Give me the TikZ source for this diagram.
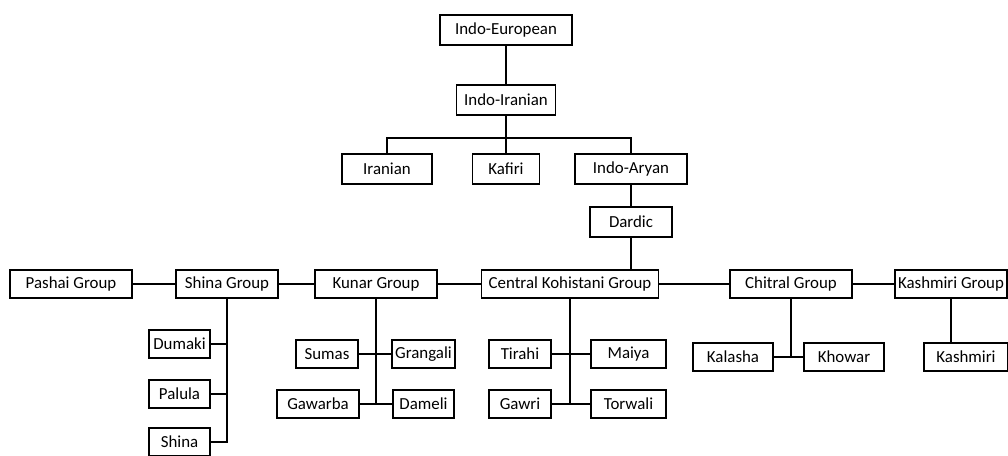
\documentclass[tikz,border=0pt]{standalone}
\usepackage{fontspec}
\setmainfont{Carlito}
\tikzset{box/.style={draw, line width=1.3pt, minimum height=0.7cm, inner xsep=2pt, font=\fontsize{12}{14}\selectfont}}

\begin{document}
\begin{tikzpicture}[x=0.025cm, y=-0.025cm, line width=1.3pt]
\useasboundingbox (0,0) rectangle (1008,455);
% top of the tree
\node [box, minimum width=3.3cm, minimum height=0.75cm] (ie) at (506,30) {Indo-European};
\node [box, minimum width=2.475cm, minimum height=0.75cm] (ii) at (506,100) {Indo-Iranian};
\node [box, minimum width=2.25cm, minimum height=0.75cm] (iran) at (387,169) {Iranian};
\node [box, minimum width=1.675cm, minimum height=0.75cm] (kaf) at (506,169) {Kafiri};
\node [box, minimum width=2.8cm, minimum height=0.75cm] (ia) at (631,169) {Indo-Aryan};
\node [box, minimum width=2.05cm, minimum height=0.75cm] (dard) at (631,222) {Dardic};
\coordinate (fork) at (506,138);
\draw (ie) -- (ii);
\draw (ii.south) -- (kaf.north);
\draw (iran.north) |- (fork) -| (ia.north);
\draw (ia) -- (dard);
% groups
\node [box, minimum width=3.05cm] (pashai) at (71,284) {Pashai Group};
\node [box, minimum width=2.55cm] (shinag) at (227,284) {Shina Group};
\node [box, minimum width=3.05cm] (kunar) at (376,284) {Kunar Group};
\node [box, minimum width=4.425cm] (ckg) at (570,284) {Central Kohistani Group};
\node [box, minimum width=3.05cm] (chitral) at (791,284) {Chitral Group};
\node [box, minimum width=2.8cm] (kashg) at (951,284) {Kashmiri Group};
\draw (dard.south) -- (dard.south |- ckg.north);
\draw (pashai) -- (shinag) -- (kunar) -- (ckg) -- (chitral) -- (kashg);
% Shina group
\node [box, minimum width=1.525cm] (dumaki) at (179.5,344) {Dumaki};
\node [box, minimum width=1.525cm] (palula) at (179.5,394) {Palula};
\node [box, minimum width=1.525cm] (shina) at (179.5,442) {Shina};
\draw (shinag.south) |- (shina.east);
\draw (dumaki.east) -- (dumaki.east -| shinag.south);
\draw (palula.east) -- (palula.east -| shinag.south);
% Kunar group
\node [box, minimum width=1.55cm] (sumas) at (327,354) {Sumas};
\node [box, minimum width=1.525cm] (grangali) at (423.5,354) {Grangali};
\node [box, minimum width=2.05cm] (gawarba) at (318,404) {Gawarba};
\node [box, minimum width=1.525cm] (dameli) at (423.5,404) {Dameli};
\draw (kunar.south) -- (kunar.south |- dameli.west);
\draw (sumas) -- (grangali);
\draw (gawarba) -- (dameli);
% Central Kohistani group
\node [box, minimum width=1.55cm] (tirahi) at (520,354) {Tirahi};
\node [box, minimum width=1.875cm] (maiya) at (628.5,354) {Maiya};
\node [box, minimum width=1.55cm] (gawri) at (520,404) {Gawri};
\node [box, minimum width=1.875cm] (torwali) at (628.5,404) {Torwali};
\draw (ckg.south) -- (ckg.south |- torwali.west);
\draw (tirahi) -- (maiya);
\draw (gawri) -- (torwali);
% Chitral and Kashmiri groups
\node [box, minimum width=2.0cm] (kalasha) at (733,357) {Kalasha};
\node [box, minimum width=2.0cm] (khowar) at (844,357) {Khowar};
\node [box, minimum width=2.1cm] (kashmiri) at (966,357) {Kashmiri};
\draw (chitral.south) -- (chitral.south |- khowar.west);
\draw (kalasha) -- (khowar);
\draw (kashg.south) -- (kashg.south |- kashmiri.north);
\end{tikzpicture}
\end{document}
